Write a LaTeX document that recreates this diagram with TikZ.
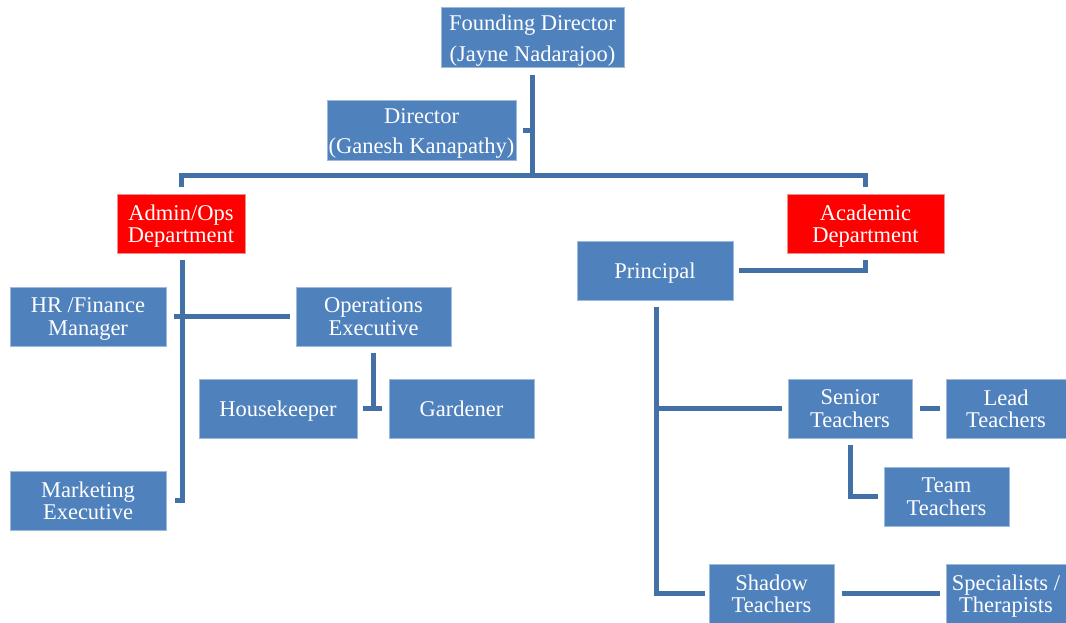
\documentclass[tikz,border=0pt]{standalone}
\usepackage{fontspec}
\setmainfont{Liberation Serif}
\definecolor{boxblue}{HTML}{4F81BD}
\definecolor{boxedge}{HTML}{9DB9DC}
\definecolor{redfill}{HTML}{FF0000}
\definecolor{rededge}{HTML}{F48C8C}
\definecolor{lineblue}{HTML}{4470A8}
\tikzset{
  box/.style={draw=boxedge, line width=1pt, fill=boxblue, text=white, inner sep=0pt, align=center,
    text depth=0pt, font=\fontsize{22.5}{22.5}\selectfont},
  topbox/.style={box, font=\fontsize{22.5}{30.5}\selectfont},
  dept/.style={box, draw=rededge, fill=redfill},
  conn/.style={draw=lineblue, line width=5pt, line join=miter, line cap=butt},
}
\begin{document}
\begin{tikzpicture}[x=1pt,y=-1pt]
\useasboundingbox (0,0) rectangle (1066,623);
% nodes
\node[topbox, minimum width=183pt, minimum height=60pt] (fd) at (532.5,38) {Founding Director\\(Jayne Nadarajoo)};
\node[topbox, minimum width=189pt, minimum height=60pt] (dir) at (421.5,131) {Director\\(Ganesh Kanapathy)};
\node[dept, minimum width=128pt, minimum height=59pt] (admin) at (181,223.5) {Admin/Ops\\Department};
\node[dept, minimum width=157pt, minimum height=59pt] (acad) at (865.5,223.5) {Academic\\Department};
\node[box, minimum width=156pt, minimum height=59pt] (prin) at (655,270.5) {Principal};
\node[box, minimum width=156pt, minimum height=59pt] (hr) at (88,316.5) {HR /Finance\\Manager};
\node[box, minimum width=155pt, minimum height=59pt] (ops) at (373.5,316.5) {Operations\\Executive};
\node[box, minimum width=158pt, minimum height=59pt] (hk) at (278,408.5) {Housekeeper};
\node[box, minimum width=145pt, minimum height=59pt] (gard) at (461.5,408.5) {Gardener};
\node[box, minimum width=156pt, minimum height=59pt] (mkt) at (88,500.5) {Marketing\\Executive};
\node[box, minimum width=124pt, minimum height=59pt] (sen) at (850,408.5) {Senior\\Teachers};
\node[box, minimum width=120pt, minimum height=59pt] (lead) at (1006,408.5) {Lead\\Teachers};
\node[box, minimum width=125pt, minimum height=59pt] (team) at (946.5,496.5) {Team\\Teachers};
\node[box, minimum width=125pt, minimum height=59pt] (shadow) at (771.5,593.5) {Shadow\\Teachers};
\node[box, minimum width=120pt, minimum height=59pt] (spec) at (1006,593.5) {Specialists /\\Therapists};
% helper coordinates
\coordinate (bus) at (533,176);
% connectors
\draw[conn] ([yshift=-7pt]fd.south) -- (fd.south |- bus);
\draw[conn] ([yshift=6pt]admin.north) -- (admin.north |- bus) -- (acad.north |- bus) -- ([yshift=6pt]acad.north);
\draw[conn] ([xshift=6pt]dir.east) -- (fd.south |- dir.east);
\draw[conn] ([yshift=-6pt]acad.south) -- (acad.south |- prin.east) -- ([xshift=5pt]prin.east);
\draw[conn] ([xshift=1pt,yshift=-6pt]admin.south) -- ([xshift=1pt]admin.south |- mkt.east) -- ([xshift=8pt]mkt.east);
\draw[conn] ([xshift=7pt]hr.east) -- ([xshift=-6pt]ops.west);
\draw[conn] ([yshift=-6pt]ops.south) -- (ops.south |- hk.east);
\draw[conn] ([xshift=5pt]hk.east) -- ([xshift=-7pt]gard.west);
\draw[conn] ([xshift=1pt,yshift=-6pt]prin.south) -- ([xshift=1pt]prin.south |- shadow.west) -- ([xshift=-4pt]shadow.west);
\draw[conn] ([xshift=1pt]prin.south |- sen.west) -- ([xshift=-6pt]sen.west);
\draw[conn] ([xshift=7pt]sen.east) -- ([xshift=-6pt]lead.west);
\draw[conn] ([yshift=-6pt]sen.south) -- (sen.south |- team.west) -- ([xshift=-6pt]team.west);
\draw[conn] ([xshift=7pt]shadow.east) -- ([xshift=-6pt]spec.west);
\end{tikzpicture}
\end{document}
